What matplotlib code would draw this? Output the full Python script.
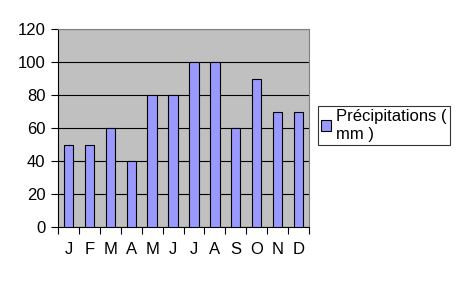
import matplotlib
matplotlib.use('Agg')
import matplotlib.pyplot as plt
from matplotlib.patches import Patch

# Data
months = ['J', 'F', 'M', 'A', 'M', 'J', 'J', 'A', 'S', 'O', 'N', 'D']
precip = [50, 50, 60, 40, 80, 80, 100, 100, 60, 90, 70, 70]

plt.rcParams['font.family'] = ['Liberation Sans', 'DejaVu Sans']

fig = plt.figure(figsize=(4.68, 2.81), dpi=100)
ax = fig.add_axes([58 / 468, 1 - 227 / 281, (309 - 58) / 468, (227 - 29) / 281])
ax.set_facecolor('#C0C0C0')

x = list(range(len(months)))
ax.bar(x, precip, width=0.45, color='#9999FF', edgecolor='black', linewidth=0.8, zorder=3)

ax.set_xlim(-0.5, len(months) - 0.5)
ax.set_ylim(0, 120)
ax.set_yticks(range(0, 121, 20))
ax.grid(axis='y', color='black', linewidth=0.8, zorder=1)

ax.set_xticks(x)
ax.set_xticklabels(months, fontsize=12)
ax.tick_params(axis='x', length=0, pad=11)
ax.set_xticks([i - 0.5 for i in range(len(months) + 1)], minor=True)
ax.tick_params(axis='x', which='minor', length=5, width=0.8, direction='out')
ax.tick_params(axis='y', length=5, width=0.8, direction='out', labelsize=12, pad=4)

for side in ['top', 'right']:
    ax.spines[side].set_color('#808080')
for side in ['left', 'bottom']:
    ax.spines[side].set_color('black')
    ax.spines[side].set_linewidth(0.8)

handle = Patch(facecolor='#9999FF', edgecolor='black', linewidth=0.8)
leg = fig.legend([handle], ['Précipitations (\nmm )'], loc='upper left',
                 bbox_to_anchor=(318 / 468, 1 - 106 / 281), frameon=True,
                 fancybox=False, edgecolor='black', prop={'size': 12},
                 handlelength=0.6, handleheight=0.6, handletextpad=0.3,
                 borderaxespad=0, borderpad=0.2, labelspacing=0.2)
leg.get_frame().set_linewidth(0.8)

fig.savefig('out.png', dpi=100)
